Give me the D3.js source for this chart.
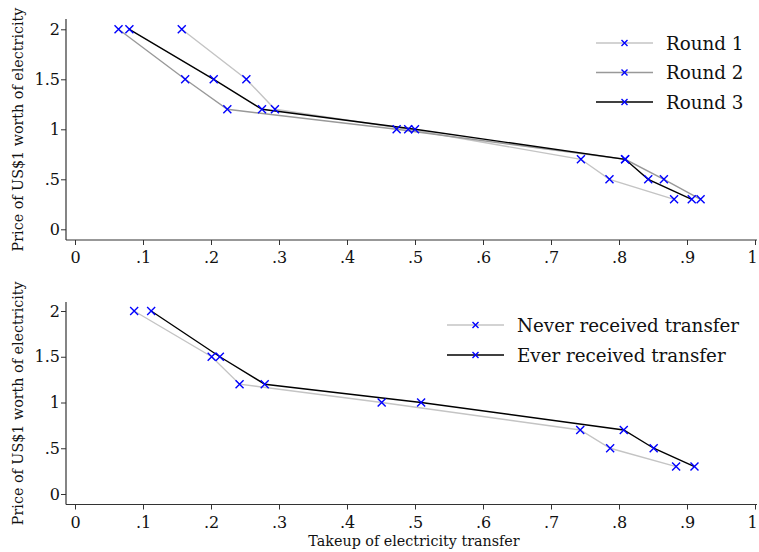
<!DOCTYPE html>
<html>
<head>
<meta charset="utf-8">
<script src="https://cdn.jsdelivr.net/npm/d3@7"></script>
<style>
  html, body { margin: 0; padding: 0; background: #fff; }
  svg { display: block; }
  text { font-family: "DejaVu Serif", "Liberation Serif", serif; fill: #111; }
</style>
</head>
<body>
<svg id="chart" width="759" height="552"></svg>
<script>
// ---- Data ----
const prices = [2, 1.5, 1.2, 1, 0.7, 0.5, 0.3];

const round1 = [0.157, 0.252, 0.294, 0.490, 0.744, 0.786, 0.881];
const round2 = [0.064, 0.162, 0.224, 0.473, 0.809, 0.866, 0.920];
const round3 = [0.080, 0.204, 0.275, 0.500, 0.809, 0.843, 0.907];

const neverReceived = [0.087, 0.201, 0.242, 0.451, 0.743, 0.787, 0.884];
const everReceived  = [0.112, 0.213, 0.279, 0.509, 0.807, 0.851, 0.911];

const xTicks = [0, 0.1, 0.2, 0.3, 0.4, 0.5, 0.6, 0.7, 0.8, 0.9, 1];
const xTickLabels = ["0", ".1", ".2", ".3", ".4", ".5", ".6", ".7", ".8", ".9", "1"];
const yTicks = [0, 0.5, 1, 1.5, 2];
const yTickLabels = ["0", ".5", "1", "1.5", "2"];

const topSeries = [
  { name: "Round 1", values: round1, color: "#c4c4c4" },
  { name: "Round 2", values: round2, color: "#999999" },
  { name: "Round 3", values: round3, color: "#000000" }
];
const bottomSeries = [
  { name: "Never received transfer", values: neverReceived, color: "#c4c4c4" },
  { name: "Ever received transfer", values: everReceived, color: "#000000" }
];

const yTitle = "Price of US$1 worth of electricity";
const xTitle = "Takeup of electricity transfer";

// ---- Drawing ----
const svg = d3.select("#chart");
const FONT = "DejaVu Serif";

function xMark(g, cx, cy, r, color, w) {
  g.append("path")
    .attr("d", `M${cx - r},${cy - r}L${cx + r},${cy + r}M${cx - r},${cy + r}L${cx + r},${cy - r}`)
    .attr("stroke", color).attr("stroke-width", w).attr("fill", "none");
}

function panel(cfg) {
  const g = svg.append("g");
  const x = d3.scaleLinear().domain([0, 1]).range([75, 755]);
  const y = d3.scaleLinear().domain([0, 2]).range([cfg.y0, cfg.y2]);

  const xAxisY = cfg.axisY;
  const yAxisX = 66;

  const xAxis = d3.axisBottom(x).tickValues(xTicks)
    .tickFormat((d, i) => xTickLabels[i]).tickSize(5).tickSizeOuter(0);
  const xg = g.append("g").attr("transform", `translate(0,${xAxisY})`).call(xAxis);
  xg.select(".domain").remove();
  g.append("line").attr("x1", yAxisX).attr("x2", 757).attr("y1", xAxisY).attr("y2", xAxisY)
    .attr("stroke", "#333").attr("stroke-width", 1.2);
  xg.selectAll(".tick line").attr("stroke", "#333");
  xg.selectAll(".tick text").attr("font-size", 16).attr("dy", "0.95em")
    .style("font-family", FONT).attr("fill", "#111")
    .attr("dx", d => d === 1 ? -3 : 0);

  const yAxis = d3.axisLeft(y).tickValues(yTicks)
    .tickFormat((d, i) => yTickLabels[i]).tickSize(5).tickSizeOuter(0);
  const yg = g.append("g").attr("transform", `translate(${yAxisX},0)`).call(yAxis);
  yg.select(".domain").remove();
  g.append("line").attr("x1", yAxisX).attr("x2", yAxisX).attr("y1", cfg.top).attr("y2", xAxisY)
    .attr("stroke", "#333").attr("stroke-width", 1.2);
  yg.selectAll(".tick line").attr("stroke", "#333");
  yg.selectAll(".tick text").attr("font-size", 16).attr("x", -6)
    .style("font-family", FONT).attr("fill", "#111");

  g.append("text")
    .attr("transform", `translate(23,${(cfg.top + xAxisY) / 2}) rotate(-90)`)
    .attr("text-anchor", "middle").attr("font-size", 14.3).text(yTitle);

  const line = d3.line().x(d => x(d[0])).y(d => y(d[1]));
  cfg.series.forEach(s => {
    const pts = s.values.map((v, i) => [v, prices[i]]);
    g.append("path").datum(pts).attr("d", line)
      .attr("fill", "none").attr("stroke", s.color).attr("stroke-width", 1.4);
  });
  cfg.series.forEach(s => {
    s.values.forEach((v, i) => xMark(g, x(v), y(prices[i]), 4, "#0000ff", 1.4));
  });

  cfg.series.forEach((s, i) => {
    const ly = cfg.legY + i * cfg.legStep;
    g.append("line").attr("x1", cfg.legX).attr("x2", cfg.legX + 57).attr("y1", ly).attr("y2", ly)
      .attr("stroke", s.color).attr("stroke-width", 1.6);
    xMark(g, cfg.legX + 28.5, ly, 3, "#0000ff", 1.4);
    g.append("text").attr("x", cfg.legX + 70).attr("y", ly).attr("dy", "0.36em")
      .attr("font-size", 18.3).text(s.name);
  });
}

panel({ series: topSeries, y0: 229.3, y2: 29.3, axisY: 240, top: 19,
        legX: 596, legY: 43, legStep: 29.5 });
panel({ series: bottomSeries, y0: 494, y2: 311, axisY: 504.5, top: 302,
        legX: 447, legY: 325, legStep: 30 });

svg.append("text").attr("x", 414).attr("y", 546).attr("text-anchor", "middle")
  .attr("font-size", 14.3).text(xTitle);
</script>
</body>
</html>
